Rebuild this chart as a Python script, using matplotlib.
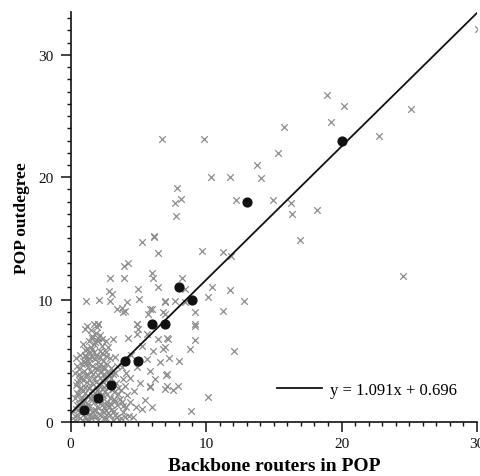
import matplotlib
matplotlib.use("Agg")
import matplotlib.pyplot as plt
from matplotlib.ticker import MultipleLocator

plt.rcParams["font.family"] = ["Liberation Serif", "DejaVu Serif"]

# individual POPs (jittered integer counts)
pop_x = [
    # dense cluster near the origin
    0.3, 0.5, 0.4, 0.6, 0.3, 0.5, 0.4, 0.6, 0.3, 0.5, 0.4, 0.7, 0.7, 0.6,
    0.9, 1.1, 1.2, 0.8, 1.0, 1.3, 0.9, 1.1, 1.2, 0.8, 1.0, 1.3, 0.9, 1.1, 1.2, 0.9,
    1.07, 1.07, 1.2, 1.0, 1.3, 0.85, 1.15, 1.25,
    1.5, 1.6, 1.4, 1.7, 1.5, 1.8, 1.4, 1.6, 1.7, 1.5, 1.8, 1.4, 1.6, 1.7, 1.5, 1.8,
    1.6, 1.5, 1.7, 1.45, 1.75, 1.55, 1.65, 1.45,
    2.0, 2.2, 1.9, 2.3, 2.1, 2.4, 1.95, 2.2, 2.35, 2.0, 2.25, 2.1, 2.4, 1.9, 2.15,
    2.3, 2.0, 2.2, 1.93, 2.05, 2.3, 2.1, 2.4, 2.2,
    2.6, 2.8, 2.5, 2.7, 2.9, 2.55, 2.75, 2.6, 2.85, 2.5, 2.7, 2.9, 2.6, 2.8, 2.65,
    2.5, 2.85, 2.95,
    3.1, 3.3, 3.0, 3.4, 3.2, 3.5, 3.1, 3.35, 3.0, 3.25, 3.45, 3.16, 3.3, 3.65, 3.4,
    3.7, 3.9, 4.1, 3.8, 4.2, 4.02, 3.75, 4.3, 4.4, 3.9, 4.1, 4.27, 3.8,
    # core of the cluster
    0.35, 0.75, 1.35, 1.85, 2.45, 2.95, 3.55, 4.0, 0.55, 1.65, 2.65, 3.2,
    0.45, 0.95, 1.45, 1.95, 2.35, 2.75, 3.3, 3.85, 0.7, 1.2, 2.05, 3.0,
    0.55, 1.05, 1.55, 1.85, 2.3, 2.7, 3.2, 0.8, 1.35, 2.5, 3.5,
    0.45, 0.95, 1.4, 1.85, 2.15, 2.6, 3.1, 0.7, 1.25, 2.45,
    0.6, 1.15, 1.55, 1.95, 2.4, 2.85, 0.85, 2.05, 3.0,
    0.7, 1.35, 1.8, 2.3, 1.05, 1.6, 2.6,
    1.35, 1.75, 2.05, 1.55, 1.85, 2.35,
    # low spread, x 4..7
    4.6, 4.8, 5.25, 4.7, 5.1, 5.87, 5.87, 5.62, 5.62, 5.0, 6.48, 4.5, 5.3, 6.1,
    6.6, 7.1, 7.1, 6.2, 4.9, 6.8, 7.3, 5.5, 4.4, 6.0, 5.87, 4.88, 4.88,
    # middle band
    1.14, 2.13, 2.86, 2.92, 3.04, 2.92, 3.97, 3.95, 4.27, 4.2, 3.41, 3.9, 3.8, 4.0,
    5.0, 5.06, 5.87, 5.74, 6.97, 6.85, 2.05, 1.19, 4.88, 5.99, 6.11, 6.48, 5.99,
    5.25, 6.19, 6.43, 6.97, 7.22, 7.1, 6.97, 7.05, 6.97, 7.59, 7.96, 8.03, 8.82,
    9.19, 9.19, 9.19, 8.45, 8.45, 8.2, 7.71, 6.97, 9.19,
    10.47, 10.12, 11.77, 12.8, 11.28, 9.68, 11.23, 11.82, 12.07, 10.17, 8.89,
    # upper scatter
    6.73, 9.87, 15.76, 15.29, 13.74, 14.08, 10.35, 11.77, 7.84, 7.73, 8.13, 7.79,
    12.19, 14.97, 16.27, 16.32, 6.18,
    30.1, 18.95, 20.18, 19.2, 25.1, 22.74, 18.19, 16.94, 24.56,
]
pop_y = [
    0.2, 0.6, 1.1, 1.5, 2.0, 2.4, 3.0, 3.4, 4.0, 4.6, 5.2, 0.3, 2.8, 3.9,
    0.1, 0.4, 0.9, 1.3, 1.7, 2.1, 2.5, 2.9, 3.3, 3.7, 4.2, 4.5, 5.0, 5.5, 6.0, 6.4,
    7.6, 5.4, 0.2, 1.1, 1.5, 2.0, 3.8, 5.1,
    0.3, 0.8, 1.2, 1.6, 2.0, 2.4, 2.8, 3.2, 3.6, 4.1, 4.4, 4.8, 5.3, 5.7, 6.1, 6.5,
    7.0, 7.5, 8.0, 0.6, 1.0, 2.6, 3.9, 5.6,
    0.2, 0.6, 1.0, 1.4, 1.8, 2.2, 2.6, 3.0, 3.4, 3.8, 4.2, 4.6, 5.0, 5.4, 5.8,
    6.2, 6.6, 7.1, 7.73, 8.0, 0.9, 2.4, 3.8, 5.3,
    0.3, 0.7, 1.2, 1.6, 2.0, 2.5, 2.9, 3.4, 3.8, 4.3, 4.7, 5.2, 5.7, 6.1, 6.6,
    0.8, 1.2, 3.0,
    0.2, 0.6, 1.0, 1.4, 1.9, 2.3, 2.7, 3.2, 3.6, 4.0, 4.6, 6.78, 5.3, 1.88, 0.4,
    0.3, 0.8, 1.2, 1.6, 2.2, 2.97, 2.6, 0.5, 1.6, 3.5, 4.0, 6.9, 4.5,
    # core of the cluster
    0.5, 0.7, 0.2, 0.5, 0.3, 0.6, 0.2, 0.4, 0.95, 0.45, 1.0, 0.9,
    1.4, 1.55, 1.85, 1.25, 1.7, 1.35, 1.75, 1.3, 1.9, 1.25, 2.0, 1.5,
    2.25, 2.35, 2.2, 2.85, 2.7, 2.25, 2.45, 2.8, 2.75, 2.9, 2.8,
    3.25, 3.45, 3.4, 3.25, 3.6, 3.05, 3.9, 3.6, 3.95, 3.95,
    4.3, 4.85, 4.6, 4.35, 4.55, 4.1, 4.7, 4.9, 4.4,
    5.5, 5.25, 5.15, 5.65, 5.85, 5.95, 5.4,
    6.6, 6.35, 6.85, 6.9, 7.3, 6.75,
    # low spread, x 4..7
    0.4, 1.2, 1.06, 2.5, 3.2, 2.97, 4.19, 5.14, 7.18, 7.6, 6.78, 5.5, 6.2, 5.8,
    4.9, 3.9, 2.97, 3.5, 4.5, 6.0, 5.2, 1.8, 3.6, 1.2, 2.83, 7.18, 8.0,
    # middle band
    9.9, 9.98, 10.72, 11.73, 10.45, 9.9, 11.73, 12.76, 12.98, 9.77, 9.22, 8.95, 9.3, 9.1,
    10.86, 10.04, 9.22, 8.8, 9.77, 8.95, 8.0, 7.86, 8.0, 12.2, 11.8, 11.0, 9.22,
    14.67, 15.1, 13.85, 9.9, 6.78, 6.9, 6.1, 3.86, 2.7, 2.6, 2.97, 4.95, 5.96,
    8.95, 7.86, 6.7, 10.86, 9.77, 11.8, 9.9, 8.8, 8.0,
    11.0, 10.18, 10.8, 9.88, 9.09, 13.98, 13.9, 13.58, 5.77, 2.07, 0.87,
    # upper scatter
    23.1, 23.1, 24.1, 22.0, 21.0, 19.9, 20.0, 20.0, 19.1, 17.9, 18.2, 16.8,
    18.1, 18.1, 17.9, 17.0, 15.2,
    32.1, 26.7, 25.8, 24.5, 25.6, 23.4, 17.3, 14.9, 11.9,
]

# per-size summary points (black dots)
mean_x = [1, 2, 3, 4, 5, 6, 7, 8, 9, 13, 20]
mean_y = [1, 2, 3, 5, 5, 8, 8, 11, 10, 18, 23]

# least-squares fit shown in the legend
slope = 1.091
intercept = 0.696
fit_x = [0, 30]

fig = plt.figure(figsize=(4.81, 4.77), dpi=100)
ax = fig.add_axes([0.1466, 0.1132, 0.8451, 0.8595])

ax.scatter(pop_x, pop_y, marker="x", s=22, linewidths=0.9, color="#8c8c8c", zorder=2)
ax.scatter(mean_x, mean_y, marker="o", s=40, color="#111111", zorder=4)
fit_y = [slope * v + intercept for v in fit_x]
ax.plot(fit_x, fit_y, color="#111111", lw=1.3, zorder=3,
        label="y = %.3fx + %.3f" % (slope, intercept))

ax.set_xlim(0, 30)
ax.set_ylim(0, 33.5)
ax.xaxis.set_major_locator(MultipleLocator(10))
ax.xaxis.set_minor_locator(MultipleLocator(1))
ax.yaxis.set_major_locator(MultipleLocator(10))
ax.yaxis.set_minor_locator(MultipleLocator(1))

for s in ["top", "right"]:
    ax.spines[s].set_visible(False)
for s in ["left", "bottom"]:
    ax.spines[s].set_linewidth(1.2)
    ax.spines[s].set_color("#111111")

ax.tick_params(which="major", length=7, width=1.1, labelsize=11, colors="#111111")
ax.tick_params(which="minor", length=3, width=1.0, colors="#111111")
ax.tick_params(axis="x", which="major", pad=4)
ax.tick_params(axis="y", which="major", pad=5.5)

ax.set_xlabel("Backbone routers in POP", fontsize=14, fontweight="bold")
ax.set_ylabel("POP outdegree", fontsize=12.5, fontweight="bold")
ax.xaxis.set_label_coords(0.5, -0.085)
ax.yaxis.set_label_coords(-0.10, 0.5)

ax.legend(loc="center left", bbox_to_anchor=(0.508, 0.078), frameon=False,
          fontsize=12, handlelength=2.7, handletextpad=0.5, borderpad=0,
          borderaxespad=0)

fig.savefig("out.png", dpi=100)
